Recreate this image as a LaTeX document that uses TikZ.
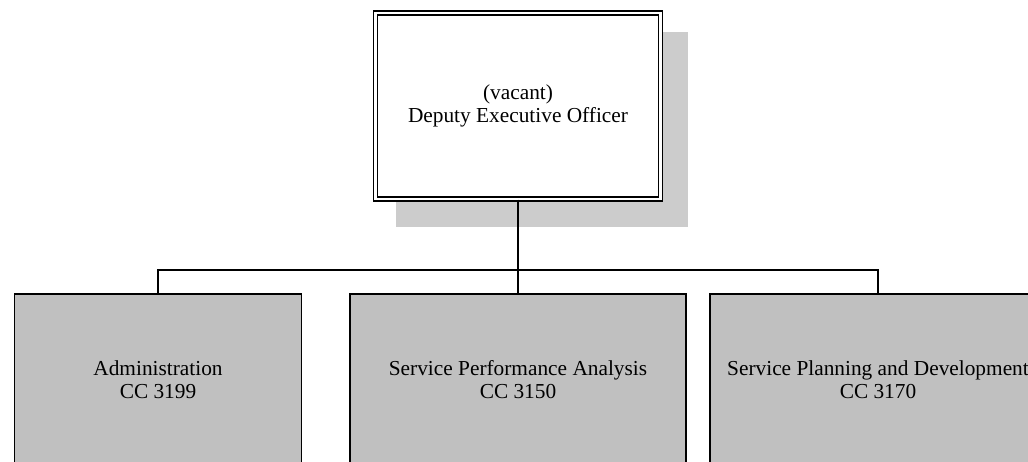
\documentclass[tikz,border=0pt]{standalone}
\usepackage{fontspec}
\setmainfont{Liberation Serif}
\usepackage{tikz}
\usetikzlibrary{positioning, calc, backgrounds}
\definecolor{mygray}{RGB}{192,192,192}
\definecolor{myshadow}{RGB}{204,204,204}
\tikzset{
  topbox/.style={rectangle, draw=black, fill=white, double, double distance=2.2pt,
    line width=0.9pt, minimum width=213.75pt, minimum height=139.5pt,
    align=center, inner sep=0pt, font=\fontsize{16}{17.25}\selectfont},
  unitbox/.style={rectangle, draw=black, fill=mygray, line width=1.1pt,
    minimum height=129pt, align=center, inner sep=0pt,
    font=\fontsize{16}{17.25}\selectfont},
  line/.style={line width=1.4pt, color=black}
}
\begin{document}
\begin{tikzpicture}[x=0.75pt, y=-0.75pt]
  \useasboundingbox (0,0) rectangle (1028,461);
  \clip (0,0) rectangle (1028,461);
  % Deputy box
  \node[topbox] (deo) at (518,106) {(vacant)\\Deputy Executive Officer};
  \begin{scope}[on background layer]
    \fill[myshadow] ($(deo.south west)+(21.5,27.5)$) rectangle ($(deo.north east)+(26.5,19.5)$);
  \end{scope}
  % Units
  \node[unitbox, minimum width=215.25pt] (adm) at (158,380) {Administration\\CC 3199};
  \node[unitbox, minimum width=252pt] (spa) at (518,380) {Service Performance Analysis\\CC 3150};
  \node[unitbox, minimum width=252pt] (spd) at (878,380) {Service Planning and Development\\CC 3170};
  % Connectors
  \coordinate (bus) at (518,270);
  \draw[line] (deo.south) -- (bus);
  \draw[line] (adm.north) |- (bus) -| (spd.north);
  \draw[line] (bus) -- (spa.north);
\end{tikzpicture}
\end{document}
